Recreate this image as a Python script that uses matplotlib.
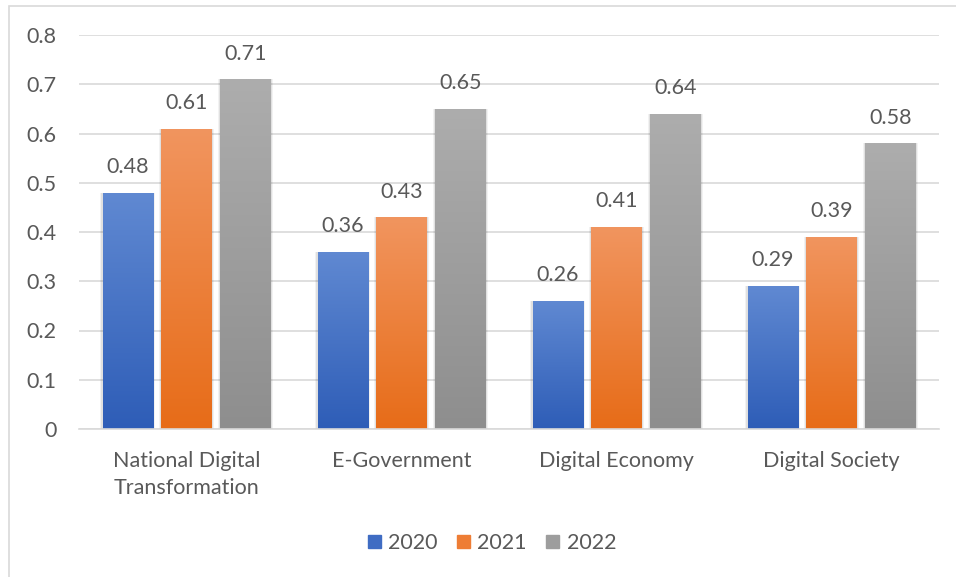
import matplotlib.pyplot as plt
import matplotlib.patches as mpatches
import matplotlib.colors as mcolors
import numpy as np

categories = ["National Digital\nTransformation", "E-Government", "Digital Economy", "Digital Society"]
years = ["2020", "2021", "2022"]
values_2020 = [0.48, 0.36, 0.26, 0.29]
values_2021 = [0.61, 0.43, 0.41, 0.39]
values_2022 = [0.71, 0.65, 0.64, 0.58]
y_ticks = [0, 0.1, 0.2, 0.3, 0.4, 0.5, 0.6, 0.7, 0.8]

# (top colour, bottom colour) for the vertical gradient fill of each series
series_colors = [("#6089D2", "#2E5DB7"), ("#F1955F", "#E76C18"), ("#ADADAD", "#8E8E8E")]
legend_colors = ["#3F6CC3", "#EE7D35", "#9D9D9D"]
text_color = "#595959"
fs = 15.5

plt.rcParams['font.family'] = ['Lato', 'DejaVu Sans']

fig = plt.figure(figsize=(9.56, 5.77), dpi=100)
ax = fig.add_axes([79 / 956, 1 - 429 / 577, 860 / 956, 394 / 577])

# chart frame, runs off the right and bottom edge
frame = mpatches.Rectangle((8.5 / 956, -0.2), 1.2, 1.2 - 5.5 / 577, transform=fig.transFigure,
                           fill=False, edgecolor="#D9D9D9", linewidth=1.2, zorder=0)
fig.patches.append(frame)

x = np.arange(len(categories))
width = 0.233
pitch = 0.274
all_values = [values_2020, values_2021, values_2022]

grad = np.linspace(0, 1, 256).reshape(-1, 1)

for i, vals in enumerate(all_values):
    offset = (i - 1) * pitch
    cmap = mcolors.LinearSegmentedColormap.from_list(f"g{i}", [series_colors[i][1], series_colors[i][0]])
    bars = ax.bar(x + offset, vals, width, color=series_colors[i][1], zorder=3, linewidth=0)
    for b, v in zip(bars, vals):
        x0 = b.get_x()
        # soft shadow around the bar
        for k, a in [(0.012, 0.05), (0.006, 0.07)]:
            ax.add_patch(mpatches.Rectangle((x0 - k, -0.004), width + 2 * k, v + 0.004,
                                            color="black", alpha=a, linewidth=0, zorder=2))
        im = ax.imshow(grad, extent=[x0, x0 + width, 0, v], origin="lower", aspect="auto",
                       cmap=cmap, zorder=4, interpolation="bilinear")
        im.set_clip_path(b)
        ax.annotate(f"{v:.2f}", (b.get_x() + width / 2, v), xytext=(0, 18.5),
                    textcoords="offset points", ha="center", va="center",
                    fontsize=fs, color=text_color)

ax.set_xlim(-0.5, len(categories) - 0.5)
ax.set_ylim(0, 0.8)
ax.set_yticks(y_ticks)
ax.set_yticklabels([f"{t:g}" for t in y_ticks])
ax.set_xticks(x)
ax.set_xticklabels(categories, fontsize=fs, color=text_color, linespacing=1.45)
ax.tick_params(axis="y", length=0, pad=16, labelsize=fs, labelcolor=text_color)
ax.tick_params(axis="x", length=0, pad=16)
ax.yaxis.grid(True, color="#D9D9D9", linewidth=1.2, zorder=0)
ax.set_axisbelow(True)
for s in ["top", "right", "left"]:
    ax.spines[s].set_visible(False)
ax.spines["bottom"].set_color("#D9D9D9")
ax.spines["bottom"].set_linewidth(1.2)
ax.spines["bottom"].set_zorder(5)

handles = [mpatches.Patch(color=c, label=y) for c, y in zip(legend_colors, years)]
fig.legend(handles=handles, loc="center", bbox_to_anchor=(492 / 956, 1 - 543 / 577), ncol=3,
           frameon=False, fontsize=fs, labelcolor=text_color, handlelength=0.6,
           handleheight=0.6, handletextpad=0.35, columnspacing=0.9)

fig.savefig("out.png", dpi=100)
